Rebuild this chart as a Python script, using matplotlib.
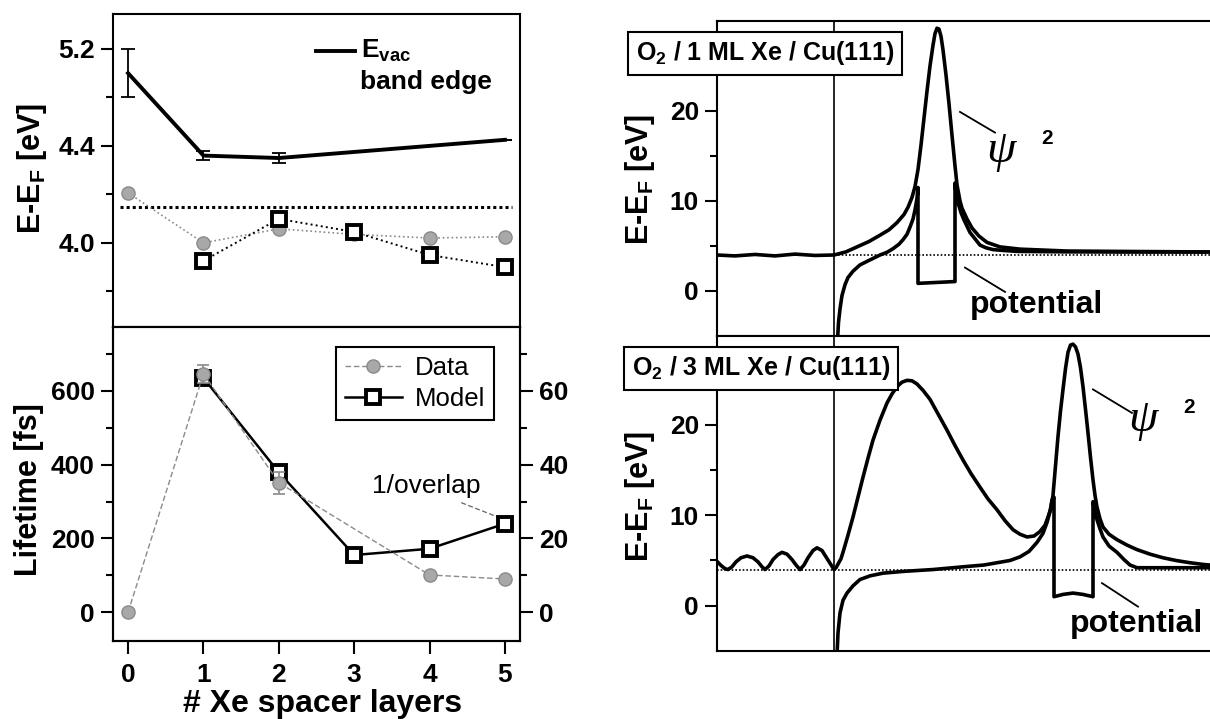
import numpy as np
import matplotlib
matplotlib.use('Agg')
import matplotlib.pyplot as plt
from matplotlib.lines import Line2D

plt.rcParams['font.family'] = ['Liberation Sans', 'DejaVu Sans']
plt.rcParams['mathtext.fontset'] = 'custom'
plt.rcParams['mathtext.rm'] = 'Liberation Sans'
plt.rcParams['mathtext.bf'] = 'Liberation Sans:bold'
plt.rcParams['mathtext.it'] = 'Liberation Sans:italic'

nan = np.nan
# ---------------- left: energies vs layers ----------------
layers = [0, 1, 2, 3, 4, 5]
evac_layers = [0, 1, 2, 5]
evac_E = [5.0, 4.36, 4.35, 4.45]
evac_err = [0.2, 0.02, 0.02, 0.0]
data_E = [4.206, 4.0, 4.058, 4.035, 4.02, 4.025]
model_E = [nan, 3.926, 4.099, 4.045, 3.95, 3.90]
vac_ref_E = 4.148

# ---------------- left: lifetimes ----------------
lifetime = [0, 646, 351, nan, 101, 90]
lifetime_err = [0, 25, 30, 0, 0, 0]
inv_overlap = [nan, 63.5, 37.9, 15.5, 17.2, 24.0]

# ---------------- right: model curves (z relative to image plane) ----------------
# O2 / 1 ML Xe
z_psi1 = [-11.7, -9.9, -7.9, -5.9, -3.9, -1.9, 0.0, 1.2, 2.3, 3.5, 4.6, 5.5, 6.3, 7.0, 7.4,
          7.8, 8.1, 8.4, 8.7, 9.0, 9.3, 9.6, 9.9, 10.1, 10.3, 10.5, 10.7, 10.9, 11.2, 11.5,
          11.8, 12.1, 12.3, 12.6, 12.8, 13.3, 13.8, 14.5, 15.3, 16.6, 18.6, 23.3, 29.9, 38.8]
E_psi1 = [4.0, 3.9, 4.06, 3.9, 4.1, 3.95, 4.0, 4.35, 4.9, 5.5, 6.2, 6.8, 7.6, 8.5, 9.3,
          10.4, 11.6, 13.5, 16.2, 19.2, 22.2, 25.0, 27.3, 28.6, 29.2, 29.1, 28.3, 26.8, 24.0, 20.8,
          17.3, 13.9, 11.8, 10.0, 9.2, 8.0, 7.0, 6.1, 5.4, 4.9, 4.65, 4.44, 4.39, 4.33]
z_pot1 = [0.35, 0.45, 0.6, 0.8, 1.1, 1.4, 1.9, 2.6, 3.5, 4.6, 5.3, 5.9, 6.5, 6.9, 7.3, 7.6,
          7.9, 8.1, 8.3, 8.4, 8.4, 12.1, 12.1, 12.2, 12.4, 12.7, 13.0, 13.3, 13.6, 14.1, 14.6,
          15.2, 15.9, 17.0, 18.3, 23.3, 29.9, 38.8]
E_pot1 = [-5.5, -3.5, -2.0, -0.5, 0.7, 1.5, 2.2, 2.9, 3.4, 4.0, 4.3, 4.7, 5.2, 5.7, 6.3, 7.1,
          8.0, 9.0, 10.3, 11.5, 0.85, 1.05, 12.0, 11.0, 9.8, 8.7, 7.9, 7.2, 6.5, 5.8, 5.1,
          4.8, 4.6, 4.5, 4.4, 4.35, 4.33, 4.33]

# O2 / 3 ML Xe
z_psi3 = [-11.7, -11.3, -10.9, -10.6, -10.2, -9.8, -9.3, -8.7, -8.1, -7.6, -7.2, -6.9, -6.5,
          -6.1, -5.6, -5.2, -4.7, -4.2, -3.8, -3.4, -3.0, -2.6, -2.1, -1.7, -1.2, -0.8, -0.4,
          0.0, 0.2, 0.4, 0.7, 0.9, 1.4, 1.9, 2.4, 2.9, 3.4, 3.9, 4.6, 5.3, 5.8, 6.3, 6.8, 7.3,
          7.8, 8.3, 8.9, 9.6, 10.4, 11.3, 12.1, 12.9, 13.7, 14.6, 15.4, 16.3, 17.1, 17.9, 18.6,
          19.3, 20.0, 20.6, 21.1, 21.4, 21.7, 21.9, 22.1, 22.4, 22.65, 22.9, 23.15, 23.4, 23.65,
          23.9, 24.15, 24.4, 24.65, 24.9, 25.15, 25.4, 25.65, 25.9, 26.1, 26.3, 26.6, 26.9, 27.5,
          28.3, 29.3, 30.3, 31.6, 32.9, 34.2, 35.6, 37.0, 38.8]
E_psi3 = [4.9, 4.45, 4.1, 4.0, 4.3, 4.85, 5.3, 5.5, 5.3, 4.85, 4.3, 4.0, 4.4,
          5.1, 5.65, 5.9, 5.7, 5.1, 4.5, 4.0, 4.5, 5.3, 6.1, 6.4, 6.1, 5.4, 4.7,
          4.0, 4.2, 4.6, 5.2, 5.9, 7.8, 9.8, 12.0, 14.2, 16.3, 18.3, 20.5, 22.4, 23.4, 24.2, 24.7, 24.9,
          24.85, 24.5, 23.8, 22.8, 21.2, 19.4, 17.7, 16.1, 14.6, 13.1, 11.8, 10.6, 9.4, 8.4, 7.9,
          7.6, 7.7, 8.2, 8.9, 9.8, 10.8, 12.2, 14.8, 18.7, 21.5, 23.9, 26.2, 28.0, 28.8,
          28.9, 28.6, 27.8, 26.3, 24.2, 21.7, 19.1, 16.4, 13.9, 12.2, 10.9, 9.6, 8.7, 7.9,
          7.3, 6.7, 6.2, 5.7, 5.3, 5.0, 4.75, 4.55, 4.4]
z_pot3 = [0.3, 0.4, 0.6, 0.9, 1.3, 1.9, 2.6, 3.6, 4.9, 7.0, 9.9, 12.9, 15.0, 16.3, 17.6,
          18.6, 19.5, 20.3, 20.9, 21.3, 21.6, 21.8, 22.0, 22.0, 22.9, 23.9, 24.9, 25.9, 25.9,
          26.1, 26.3, 26.6, 26.9, 27.5, 28.3, 29.0, 29.6, 30.3, 38.8]
E_pot3 = [-5.5, -3.0, -0.8, 0.6, 1.4, 2.2, 2.9, 3.3, 3.6, 3.8, 4.0, 4.3, 4.5, 4.75, 5.0,
          5.4, 6.0, 7.0, 8.0, 9.2, 10.4, 11.7, 12.0, 1.0, 1.25, 1.4, 1.25, 1.0, 11.5,
          10.4, 9.5, 8.5, 7.6, 6.6, 5.9, 5.1, 4.5, 4.2, 4.2]
vacuum_level = 4.0

W, H = 1210, 719
fig = plt.figure(figsize=(W / 100, H / 100), dpi=100)


def rect(x0, y0, x1, y1):
    return [x0 / W, 1 - y1 / H, (x1 - x0) / W, (y1 - y0) / H]


BOLD = dict(fontweight='bold')
TICK_FS = 19
SPW = 1.5

# ---------- top-left ----------
axt = fig.add_axes(rect(113, 14, 520, 327))
fwd = lambda y: np.where(np.asarray(y) > 4.4, 4.4 + (np.asarray(y) - 4.4) * 0.5, np.asarray(y))
inv = lambda y: np.where(np.asarray(y) > 4.4, 4.4 + (np.asarray(y) - 4.4) * 2.0, np.asarray(y))
axt.set_yscale('function', functions=(fwd, inv))
axt.set_xlim(-0.2, 5.2)
axt.set_ylim(3.653, 5.488)
axt.set_yticks([5.2, 4.4, 4.0])
axt.set_yticklabels(['5.2', '4.4', '4.0'])
axt.set_yticks([4.8, 4.2, 3.8], minor=True)
axt.set_xticks([])
axt.tick_params(axis='y', which='major', direction='out', length=9, width=1.5, pad=4,
                labelsize=TICK_FS)
axt.tick_params(axis='y', which='minor', direction='out', length=5, width=1.5)
for lab in axt.get_yticklabels():
    lab.set_fontweight('bold')
for s in axt.spines.values():
    s.set_linewidth(SPW)

axt.axhline(vac_ref_E, xmin=0.017, xmax=0.98, color='k', ls=(0, (1, 1)), lw=2.2)
axt.plot(layers, data_E, ls=':', color='#8a8a8a', lw=1.2, marker='o', ms=9.5,
         mfc='#a8a8a8', mec='#8a8a8a', zorder=3)
axt.plot(layers, model_E, ls=':', color='k', lw=1.4, marker='s', ms=9.5,
         mfc='white', mec='k', mew=2.8, zorder=4)
axt.errorbar(evac_layers, evac_E, yerr=evac_err, color='k', lw=2.8, capsize=5,
             elinewidth=1.3, capthick=1.3, zorder=5)
axt.add_line(Line2D([0.499, 0.595], [0.882, 0.882], transform=axt.transAxes,
                    color='k', lw=2.8))
axt.text(0.609, 0.882, r'E$_{\mathbf{vac}}$', transform=axt.transAxes, fontsize=19,
         va='center', ha='left', **BOLD)
axt.text(0.607, 0.783, 'band edge', transform=axt.transAxes, fontsize=19,
         va='center', ha='left', **BOLD)

# ---------- bottom-left ----------
axb = fig.add_axes(rect(113, 327, 520, 641))
axb.set_xlim(-0.2, 5.2)
axb.set_ylim(-78, 773)
axb.set_xticks(layers)
axb.set_yticks([0, 200, 400, 600])
axb.set_yticks([100, 300, 500, 700], minor=True)
axb.tick_params(axis='both', which='major', direction='out', length=9, width=1.5,
                labelsize=TICK_FS)
axb.tick_params(axis='x', pad=7)
axb.tick_params(axis='y', pad=4)
axb.tick_params(axis='y', which='minor', direction='out', length=5, width=1.5)
for lab in axb.get_xticklabels() + axb.get_yticklabels():
    lab.set_fontweight('bold')
for s in axb.spines.values():
    s.set_linewidth(SPW)

axr = axb.twinx()
axr.set_ylim(-7.8, 77.3)
axr.set_yticks([0, 20, 40, 60])
axr.set_yticks([10, 30, 50, 70], minor=True)
axr.tick_params(axis='y', which='major', direction='out', length=9, width=1.5, pad=5,
                labelsize=TICK_FS)
axr.tick_params(axis='y', which='minor', direction='out', length=5, width=1.5)
for lab in axr.get_yticklabels():
    lab.set_fontweight('bold')
for s in axr.spines.values():
    s.set_linewidth(SPW)

axr.plot(layers, inv_overlap, color='k', lw=1.8, marker='s', ms=9.5, mfc='white',
         mec='k', mew=2.8, zorder=3)
axr.errorbar(layers, np.array(lifetime, dtype=float) / 10.0,
             yerr=np.array(lifetime_err) / 10.0, fmt='none',
             ecolor='#8a8a8a', elinewidth=1.2, capsize=4, capthick=1.2, zorder=4)
lt_scaled = np.array(lifetime, dtype=float) / 10.0
valid = ~np.isnan(lt_scaled)
axr.plot(np.array(layers)[valid], lt_scaled[valid], ls=(0, (4, 2)), color='#8a8a8a',
         lw=1.0, marker='o', ms=9.5, mfc='#a8a8a8', mec='#8a8a8a', zorder=4)

axr.text(3.96, 34.3, '1/overlap', fontsize=19, ha='center', va='center')
axr.plot([4.42, 4.98], [29.7, 25.2], ls=(0, (4, 2)), color='#666666', lw=0.9)

h_data = Line2D([], [], ls=(0, (4, 2)), color='#8a8a8a', lw=1.0, marker='o', ms=9.5,
                mfc='#a8a8a8', mec='#8a8a8a')
h_model = Line2D([], [], color='k', lw=1.8, marker='s', ms=9.5, mfc='white', mec='k',
                 mew=2.8)
leg = axr.legend([h_data, h_model], ['Data', 'Model'], loc='upper right',
                 bbox_to_anchor=(0.936, 0.936), borderaxespad=0, fontsize=18.5,
                 handlelength=2.2, handletextpad=0.5, labelspacing=0.25,
                 borderpad=0.35, fancybox=False, framealpha=1, edgecolor='k')
leg.get_frame().set_linewidth(1.5)

fig.text(32 / W, 1 - 168 / H, r'E-E$_{\mathbf{F}}$ [eV]', rotation=90, fontsize=22,
         ha='center', va='center', **BOLD)
fig.text(29 / W, 1 - 490 / H, 'Lifetime [fs]', rotation=90, fontsize=22,
         ha='center', va='center', **BOLD)
fig.text(323 / W, 1 - 704 / H, '# Xe spacer layers', fontsize=23, ha='center',
         va='center', **BOLD)


# ---------- right panels ----------
def right_panel(y0, y1, ylim, zp, Ep, zv, Ev, psi_pos, psi_line, pot_pos, pot_line,
                label, label_xy, ylab_y):
    ax = fig.add_axes(rect(717, y0, 1222, y1))
    ax.set_xlim(-11.7, 38.8)
    ax.set_ylim(*ylim)
    ax.set_xticks([])
    ax.set_yticks([0, 10, 20])
    ax.set_yticks([5, 15], minor=True)
    ax.tick_params(axis='y', which='major', direction='out', length=9, width=1.5,
                   pad=4, labelsize=TICK_FS)
    ax.tick_params(axis='y', which='minor', direction='out', length=5, width=1.5)
    for lab in ax.get_yticklabels():
        lab.set_fontweight('bold')
    for s in ax.spines.values():
        s.set_linewidth(SPW)
    ax.axvline(0, color='k', lw=1.2)
    ax.axhline(vacuum_level, color='k', ls=(0, (1, 1.2)), lw=1.2)
    ax.plot(zv, Ev, color='k', lw=2.6, solid_joinstyle='round')
    ax.plot(zp, Ep, color='k', lw=2.6, solid_joinstyle='round')
    ax.plot(psi_line[0], psi_line[1], color='k', lw=1.3)
    ax.text(psi_pos[0], psi_pos[1], '\u03c8', fontsize=34, style='italic',
            family=['Liberation Serif', 'DejaVu Serif'], ha='center', va='center')
    ax.text(psi_pos[0] + 4.6, psi_pos[1] + 1.4, '2', fontsize=15, ha='center',
            va='center', **BOLD)
    ax.plot(pot_line[0], pot_line[1], color='k', lw=1.3)
    ax.text(pot_pos[0], pot_pos[1], 'potential', fontsize=23, ha='center',
            va='center', **BOLD)
    fig.text(label_xy[0] / W, 1 - label_xy[1] / H, label, fontsize=18, ha='center',
             va='center', zorder=10, **BOLD,
             bbox=dict(boxstyle='square,pad=0.3', fc='white', ec='k', lw=1.5))
    fig.text(640 / W, 1 - ylab_y / H, r'E-E$_{\mathbf{F}}$ [eV]', rotation=90,
             fontsize=22, ha='center', va='center', **BOLD)
    return ax


right_panel(21, 336, (-5.0, 30.0), z_psi1, E_psi1, z_pot1, E_pot1,
            psi_pos=(16.7, 15.6), psi_line=([12.6, 16.1], [19.9, 17.6]),
            pot_pos=(20.3, -1.6), pot_line=([13.1, 17.1], [2.6, -0.1]),
            label=r'O$_{\mathbf{2}}$ / 1 ML Xe / Cu(111)', label_xy=(765, 53),
            ylab_y=179)
right_panel(336, 651, (-5.0, 29.8), z_psi3, E_psi3, z_pot3, E_pot3,
            psi_pos=(30.9, 20.5), psi_line=([25.9, 29.8], [23.9, 21.3]),
            pot_pos=(30.3, -2.0), pot_line=([26.8, 30.4], [2.5, -0.1]),
            label=r'O$_{\mathbf{2}}$ / 3 ML Xe / Cu(111)', label_xy=(761, 368),
            ylab_y=496)

fig.savefig('out.png', dpi=100)
